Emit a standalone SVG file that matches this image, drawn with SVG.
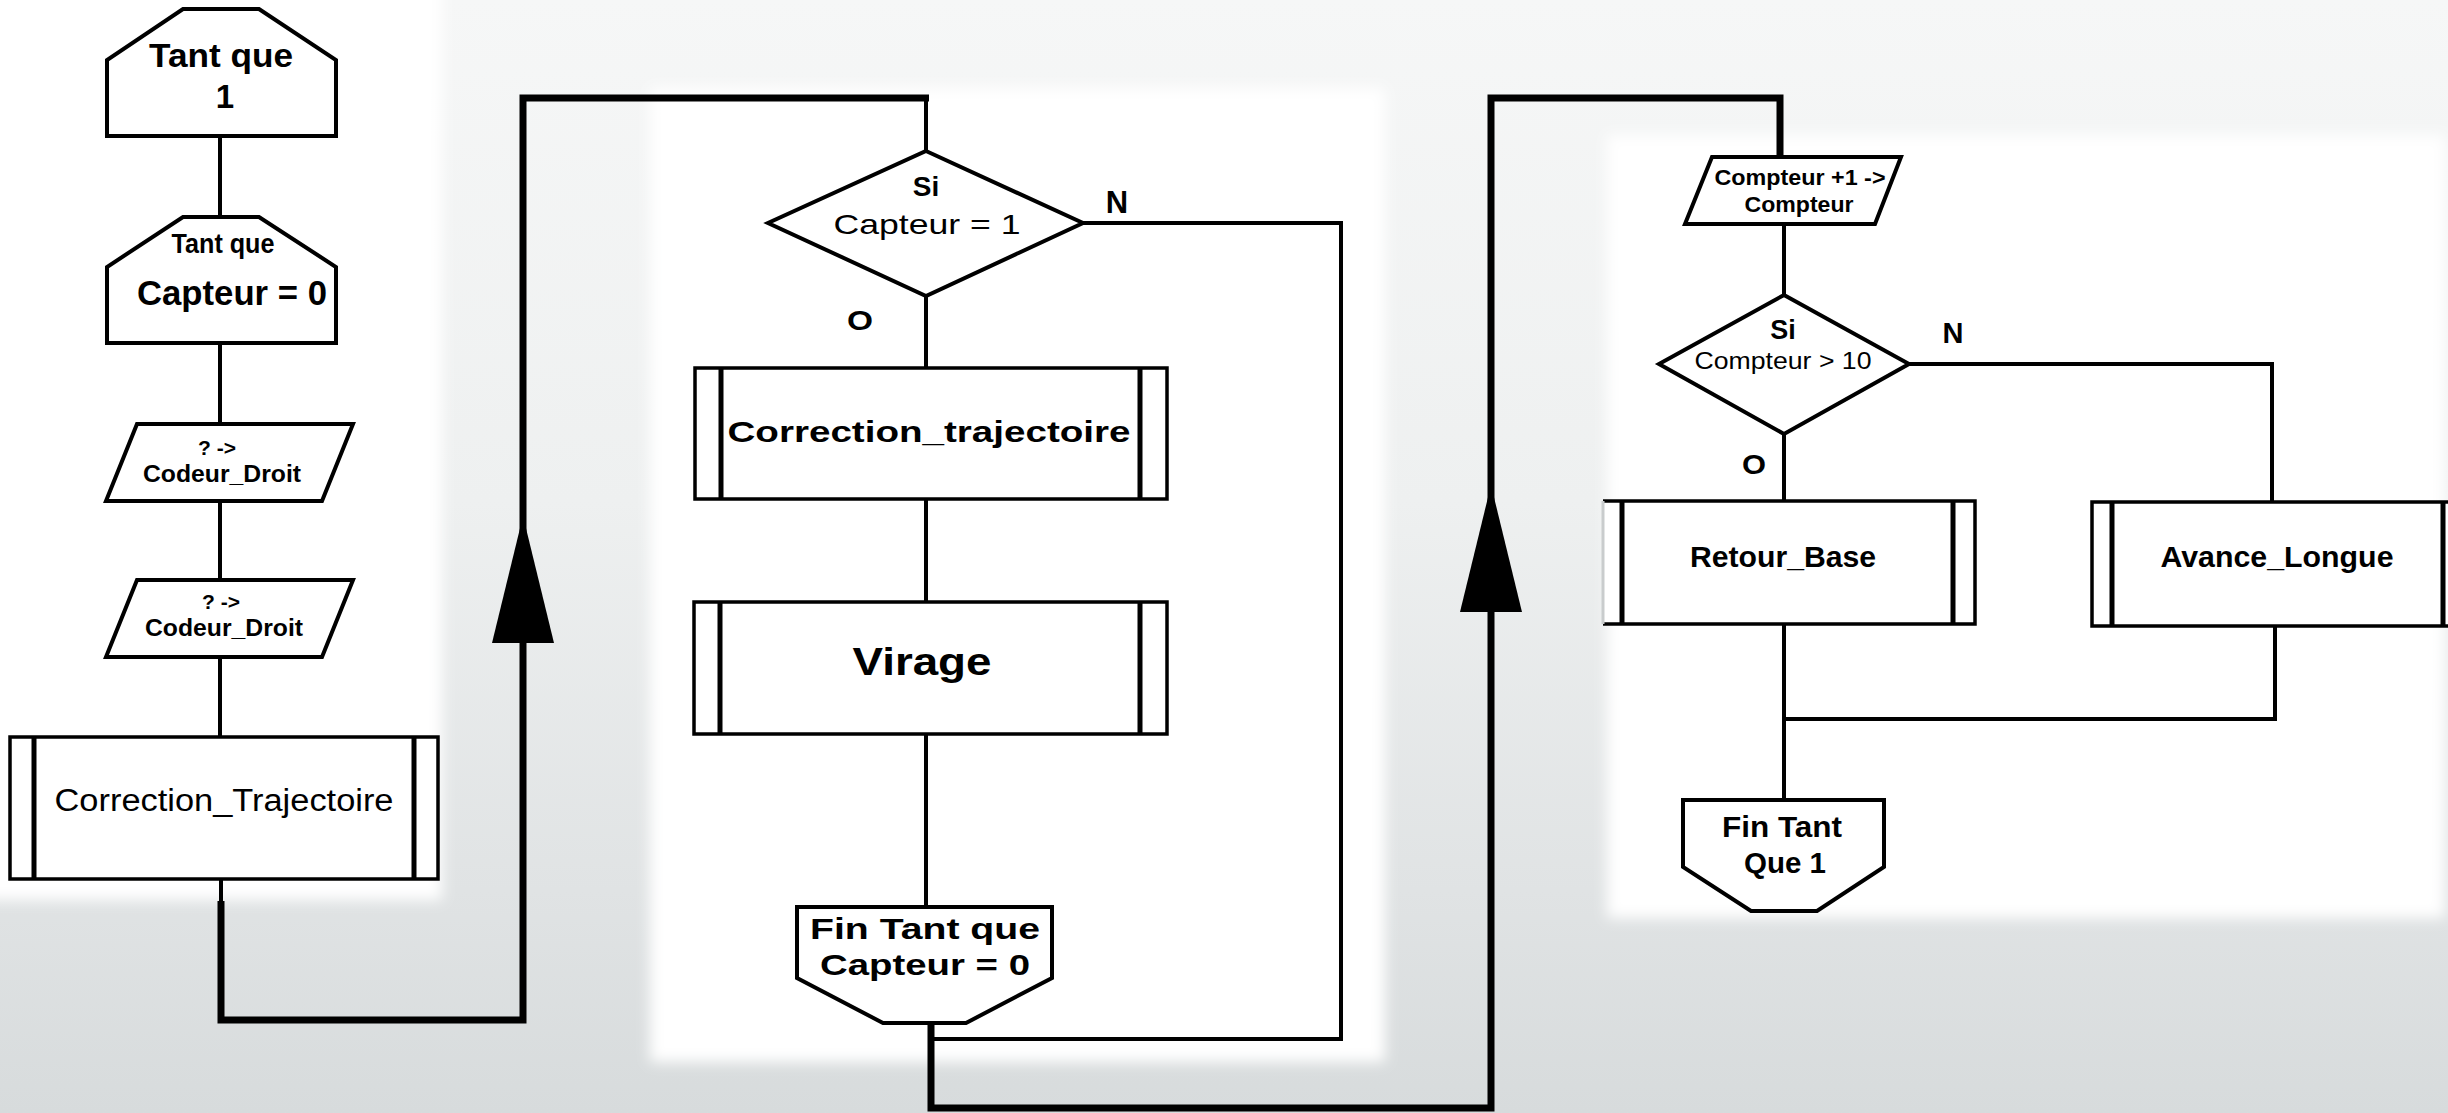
<svg xmlns="http://www.w3.org/2000/svg" xmlns:xlink="http://www.w3.org/1999/xlink" width="2448" height="1113" viewBox="0 0 2448 1113">
<defs>
<linearGradient id="bg" x1="0" y1="0" x2="0" y2="1">
<stop offset="0" stop-color="#f6f7f7"/>
<stop offset="0.45" stop-color="#eef0f0"/>
<stop offset="0.8" stop-color="#e0e3e4"/>
<stop offset="1" stop-color="#d7dbdc"/>
</linearGradient>
<filter id="soft" x="-5%" y="-5%" width="110%" height="110%">
<feGaussianBlur stdDeviation="7"/>
</filter>
<path id="arrowUp" d="M0,0 L-31,127 L31,127 Z" fill="#000"/>
</defs>
<style>
.shape{fill:#fff;stroke:#000;stroke-width:4;stroke-linejoin:miter}
.box{fill:#fff;stroke:#000;stroke-width:3.5}
.bar{stroke:#000;stroke-width:5;fill:none}
.thin{fill:none;stroke:#000;stroke-width:4}
.thick{fill:none;stroke:#000;stroke-width:7;stroke-linejoin:miter}
.t{font-family:"Liberation Sans",Arial,sans-serif;fill:#000;text-anchor:middle}
.b{font-weight:bold}
</style>
<rect x="0" y="0" width="2448" height="1113" fill="url(#bg)"/>
<g id="panels" filter="url(#soft)">
<rect x="-20" y="-20" width="462" height="920" fill="#fff"/>
<rect x="650" y="88" width="735" height="974" fill="#fff"/>
<rect x="1607" y="135" width="838" height="783" fill="#fff"/>
</g>

<g id="connectors">
<path class="thin" d="M220,136 V217 M220,343 V423 M220,501 V580 M220,657 V737 M221,879 V905"/>
<path class="thick" d="M221,901 V1020 H523 V98 H929"/>
<path class="thin" d="M926,98 V151 M926,296 V368 M926,499 V602 M926,734 V907"/>
<path class="thin" d="M1083,223 H1341 V1039 H931"/>
<path class="thick" d="M931,1020 V1108 H1491 V98 H1780 V157"/>
<path class="thin" d="M1784,224 V295 M1784,434 V501 M1909,364 H2272 V502 M1784,624 V800 M2275,626 V719 H1784"/>
<use xlink:href="#arrowUp" x="523" y="516"/>
<use xlink:href="#arrowUp" x="1491" y="485"/>
</g>

<g id="n-tantque1">
<polygon class="shape" points="183,9 259,9 336,60 336,136 107,136 107,60"/>
<text class="t b" x="221" y="67" font-size="33" textLength="144" lengthAdjust="spacingAndGlyphs">Tant que</text>
<text class="t b" x="225" y="108" font-size="33">1</text>
</g>
<g id="n-tantque-capteur">
<polygon class="shape" points="183,217 259,217 336,267 336,343 107,343 107,267"/>
<text class="t b" x="223" y="253" font-size="27" textLength="103" lengthAdjust="spacingAndGlyphs">Tant que</text>
<text class="t b" x="232" y="305" font-size="35" textLength="190" lengthAdjust="spacingAndGlyphs">Capteur = 0</text>
</g>
<g id="n-codeur1">
<polygon class="shape" points="137,424 353,424 322,501 106,501"/>
<text class="t b" x="217" y="455" font-size="21">? -&gt;</text>
<text class="t b" x="222" y="482" font-size="24" textLength="158" lengthAdjust="spacingAndGlyphs">Codeur_Droit</text>
</g>
<g id="n-codeur2">
<polygon class="shape" points="137,580 353,580 322,657 106,657"/>
<text class="t b" x="221" y="609" font-size="21">? -&gt;</text>
<text class="t b" x="224" y="636" font-size="24" textLength="158" lengthAdjust="spacingAndGlyphs">Codeur_Droit</text>
</g>
<g id="n-correction-left">
<rect class="box" x="10" y="737" width="428" height="142"/>
<path class="bar" d="M34,737 V879 M414,737 V879"/>
<text class="t" x="224" y="811" font-size="31" textLength="339" lengthAdjust="spacingAndGlyphs">Correction_Trajectoire</text>
</g>

<g id="n-si-capteur">
<polygon class="shape" points="926,151 1083,223 926,296 768,223"/>
<text class="t b" x="926" y="196" font-size="28">Si</text>
<text class="t" x="927" y="234" font-size="28" textLength="187" lengthAdjust="spacingAndGlyphs">Capteur = 1</text>
<text class="t b" x="1117" y="213" font-size="31">N</text>
<text class="t b" x="860" y="330" font-size="27" textLength="26" lengthAdjust="spacingAndGlyphs">O</text>
</g>
<g id="n-correction-mid">
<rect class="box" x="695" y="368" width="472" height="131"/>
<path class="bar" d="M721,368 V499 M1140,368 V499"/>
<text class="t b" x="929" y="442" font-size="30" textLength="403" lengthAdjust="spacingAndGlyphs">Correction_trajectoire</text>
</g>
<g id="n-virage">
<rect class="box" x="694" y="602" width="473" height="132"/>
<path class="bar" d="M720,602 V734 M1140,602 V734"/>
<text class="t b" x="922" y="675" font-size="39" textLength="139" lengthAdjust="spacingAndGlyphs">Virage</text>
</g>
<g id="n-fin-tantque-capteur">
<polygon class="shape" points="797,907 1052,907 1052,978 966,1023 883,1023 797,978"/>
<text class="t b" x="925" y="939" font-size="30" textLength="230" lengthAdjust="spacingAndGlyphs">Fin Tant que</text>
<text class="t b" x="925" y="975" font-size="30" textLength="210" lengthAdjust="spacingAndGlyphs">Capteur = 0</text>
</g>

<g id="n-compteur">
<polygon class="shape" points="1712,157 1901,157 1875,224 1685,224"/>
<text class="t b" x="1800" y="185" font-size="22" textLength="171" lengthAdjust="spacingAndGlyphs">Compteur +1 -&gt;</text>
<text class="t b" x="1799" y="212" font-size="22" textLength="109" lengthAdjust="spacingAndGlyphs">Compteur</text>
</g>
<g id="n-si-compteur">
<polygon class="shape" points="1784,295 1909,364 1784,434 1659,364"/>
<text class="t b" x="1783" y="339" font-size="27">Si</text>
<text class="t" x="1783" y="369" font-size="23" textLength="177" lengthAdjust="spacingAndGlyphs">Compteur &gt; 10</text>
<text class="t b" x="1953" y="343" font-size="29">N</text>
<text class="t b" x="1754" y="474" font-size="27" textLength="24" lengthAdjust="spacingAndGlyphs">O</text>
</g>
<g id="n-retour-base">
<path d="M1603,501 H1975 V624 H1603" fill="#fff" stroke="#000" stroke-width="3.5"/>
<path d="M1603,501 V624" stroke="#c9cccd" stroke-width="3"/>
<path class="bar" d="M1622,501 V624 M1953,501 V624"/>
<text class="t b" x="1783" y="567" font-size="29" textLength="186" lengthAdjust="spacingAndGlyphs">Retour_Base</text>
</g>
<g id="n-avance-longue">
<rect class="box" x="2092" y="502" width="370" height="124"/>
<path class="bar" d="M2112,502 V626 M2443,502 V626"/>
<text class="t b" x="2277" y="567" font-size="29" textLength="233" lengthAdjust="spacingAndGlyphs">Avance_Longue</text>
</g>
<g id="n-fin-tantque1">
<polygon class="shape" points="1683,800 1884,800 1884,867 1817,911 1751,911 1683,867"/>
<text class="t b" x="1782" y="837" font-size="29" textLength="120" lengthAdjust="spacingAndGlyphs">Fin Tant</text>
<text class="t b" x="1785" y="873" font-size="29" textLength="82" lengthAdjust="spacingAndGlyphs">Que 1</text>
</g>
</svg>
